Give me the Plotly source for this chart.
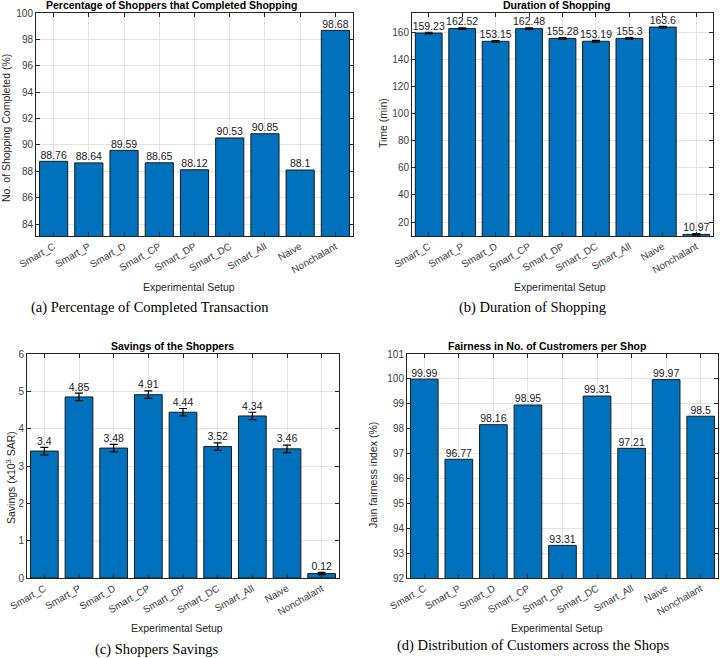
import plotly.graph_objects as go

W, H = 720, 658

setups = ["Smart_C", "Smart_P", "Smart_D", "Smart_CP", "Smart_DP",
          "Smart_DC", "Smart_All", "Naive", "Nonchalant"]

completed_pct = [88.76, 88.64, 89.59, 88.65, 88.12, 90.53, 90.85, 88.1, 98.68]
duration_min = [159.23, 162.52, 153.15, 162.48, 155.28, 153.19, 155.3, 163.6, 10.97]
duration_err = [0.6, 0.6, 0.6, 0.6, 0.6, 0.6, 0.6, 0.6, 0.6]
savings_k = [3.4, 4.85, 3.48, 4.91, 4.44, 3.52, 4.34, 3.46, 0.12]
savings_err = [0.1, 0.1, 0.1, 0.1, 0.1, 0.1, 0.1, 0.1, 0.03]
fairness_pct = [99.99, 96.77, 98.16, 98.95, 93.31, 99.31, 97.21, 99.97, 98.5]

ticks_a = [84, 86, 88, 90, 92, 94, 96, 98, 100]
ticks_b = [20, 40, 60, 80, 100, 120, 140, 160]
ticks_c = [0, 1, 2, 3, 4, 5, 6]
ticks_d = [92, 93, 94, 95, 96, 97, 98, 99, 100, 101]

titles = ["Percentage of Shoppers that Completed Shopping", "Duration of Shopping",
          "Savings of the Shoppers", "Fairness in No. of Custromers per Shop"]
ylabels = ["No. of Shopping Completed (%)", "Time (min)",
           "Savings (x10<sup>3</sup> SAR)", "Jain fairness index (%)"]
xlabel = "Experimental Setup"
captions = ["(a) Percentage of Completed Transaction", "(b) Duration of Shopping",
            "(c) Shoppers Savings", "(d) Distribution of Customers across the Shops"]


def px(x):
    return x / W


def py(y):
    return 1 - y / H


# plot-area boxes in pixels: (left, top, right, bottom)
boxes = [(36, 13, 353, 236), (412, 13, 713, 236), (27, 354, 339, 578), (407, 354, 718, 578)]
yranges = [[83.1, 100], [9.8, 174], [0, 6], [92, 101]]
yticks = [ticks_a, ticks_b, ticks_c, ticks_d]
values = [completed_pct, duration_min, savings_k, fairness_pct]
errors = [None, duration_err, savings_err, None]

title_pos = [(171.5, 5), (556, 5), (172, 345.5), (546.5, 345.5)]
xlabel_pos = [(189, 286.5), (560, 286.5), (176.5, 627.5), (556.5, 627.5)]
ylabel_pos = [(6, 128), (383, 123), (10, 478), (373, 475)]
caption_pos = [(150, 307.5), (532, 307.5), (157, 649), (533, 645)]

BLUE = "#0072BD"
AX = "#262626"
GRID = "#e3e3e3"
SANS = "Liberation Sans, Arial, sans-serif"
SERIF = "Liberation Serif, Times New Roman, serif"

fig = go.Figure()
layout = dict(width=W, height=H, margin=dict(l=0, r=0, t=0, b=0, pad=0, autoexpand=False),
              paper_bgcolor="white", plot_bgcolor="white", showlegend=False,
              hovermode=False, bargap=0.2, annotations=[])

for i in range(4):
    n = "" if i == 0 else str(i + 1)
    xa, ya = "x" + n, "y" + n
    vals = values[i]
    err = errors[i]
    bar = go.Bar(x=setups, y=vals, xaxis=xa, yaxis=ya,
                 marker=dict(color=BLUE, line=dict(color="#1a1a1a", width=1)),
                 hoverinfo="skip")
    if err is not None:
        bar.error_y = dict(type="data", array=err, visible=True,
                           color="black", thickness=1.2, width=4)
    fig.add_trace(bar)
    label_y = [v + (e if err is not None else 0) for v, e in
               zip(vals, err if err is not None else [0] * len(vals))]
    fig.add_trace(go.Scatter(x=setups, y=label_y, xaxis=xa, yaxis=ya,
                             mode="text", text=[str(v) for v in vals],
                             textposition="top center",
                             textfont=dict(family=SANS, size=10.5, color="#1a1a1a"),
                             cliponaxis=False, hoverinfo="skip"))
    l, t, r, b = boxes[i]
    axis_common = dict(showline=True, linecolor=AX, linewidth=1, mirror="ticks",
                       ticks="inside", ticklen=4, tickcolor=AX, showgrid=True,
                       gridcolor=GRID, gridwidth=1, zeroline=False, automargin=False,
                       tickfont=dict(family=SANS, size=10, color="#404040"))
    layout["xaxis" + n] = dict(domain=[px(l), px(r)], anchor=ya, type="category",
                               categoryorder="array", categoryarray=setups,
                               range=[-0.5, 8.5], tickangle=-30, **axis_common)
    layout["yaxis" + n] = dict(domain=[py(b), py(t)], anchor=xa, range=yranges[i],
                               tickvals=yticks[i], **axis_common)

    def ann(text, pos, font, angle=0):
        layout["annotations"].append(dict(text=text, x=px(pos[0]), y=py(pos[1]),
                                          xref="paper", yref="paper", showarrow=False,
                                          xanchor="center", yanchor="middle",
                                          textangle=angle, font=font))

    ann("<b>" + titles[i] + "</b>", title_pos[i], dict(family=SANS, size=10.5, color="black"))
    ann(xlabel, xlabel_pos[i], dict(family=SANS, size=10.5, color=AX))
    ann(ylabels[i], ylabel_pos[i], dict(family=SANS, size=10.5, color=AX), angle=-90)
    ann(captions[i], caption_pos[i], dict(family=SERIF, size=14.5, color="black"))

fig.update_layout(**layout)
fig.write_html("out.html", config={"displayModeBar": False, "staticPlot": True},
               post_script="document.body.style.margin='0';"
                           "document.body.style.overflow='hidden';")
